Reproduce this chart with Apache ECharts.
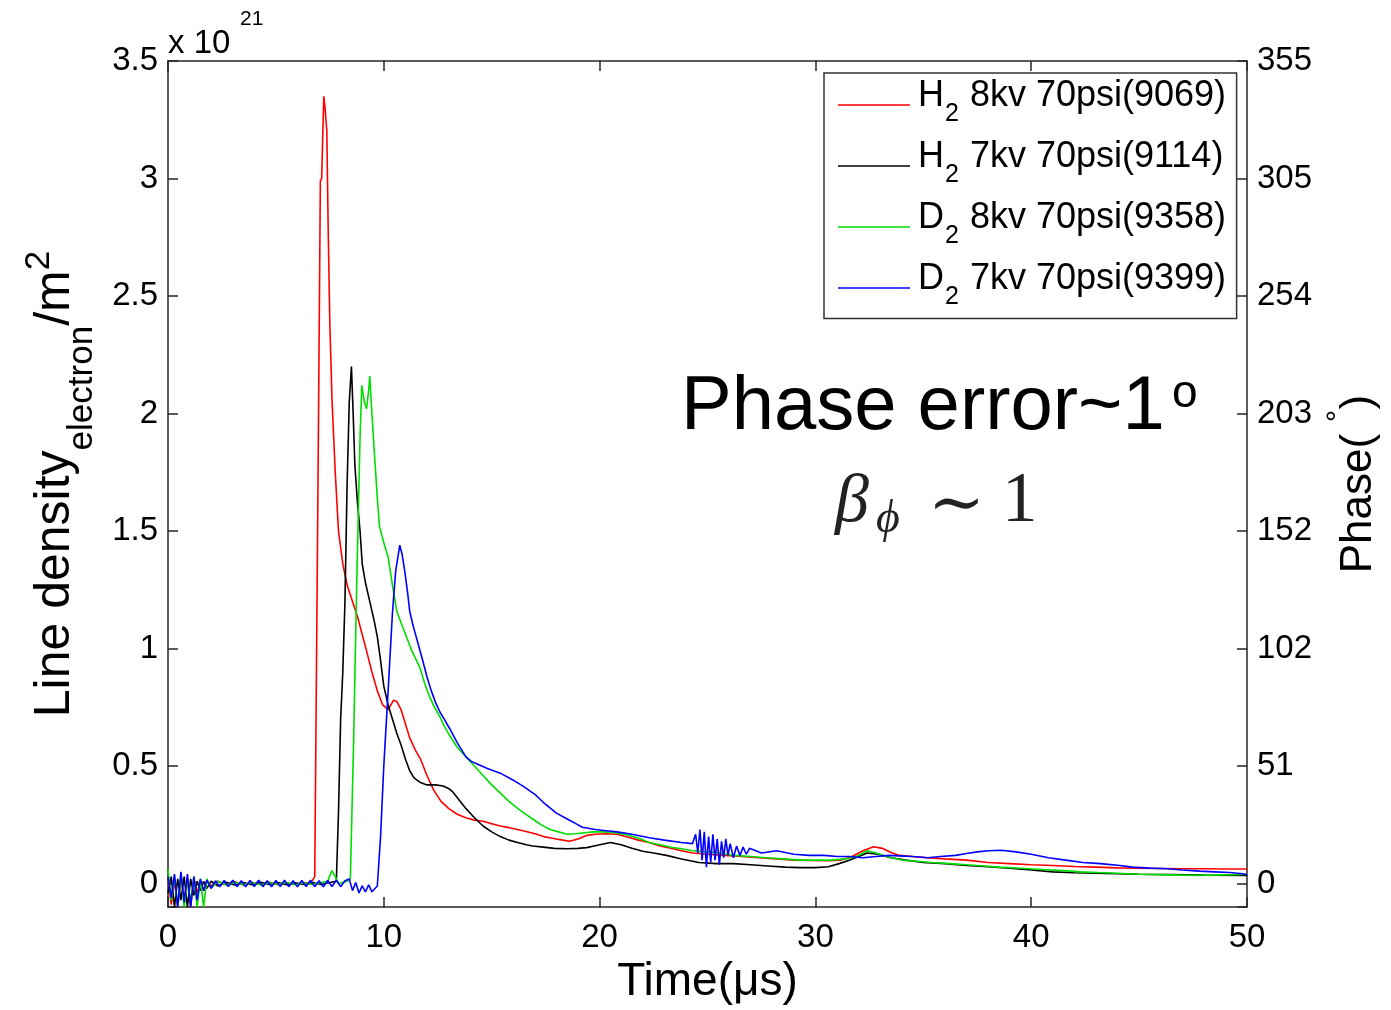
<!DOCTYPE html>
<html><head><meta charset="utf-8">
<script src="https://cdn.jsdelivr.net/npm/echarts@6/dist/echarts.min.js"></script>
<style>html,body{margin:0;padding:0;background:#fff}#c{width:1391px;height:1010px}</style>
</head><body><div id="c"></div>
<script>
// ---- tick labels ----
const xTickValues = [0, 10, 20, 30, 40, 50];
const yTickLabels = ['0', '0.5', '1', '1.5', '2', '2.5', '3', '3.5'];
const phaseTickLabels = ['0', '51', '102', '152', '203', '254', '305', '355'];

// ---- series names (legend) ----
const seriesNames = ['H2 8kv 70psi(9069)', 'H2 7kv 70psi(9114)', 'D2 8kv 70psi(9358)', 'D2 7kv 70psi(9399)'];

// ---- H2 8kv 70psi(9069)  (time in µs, density in 1e21 m^-2) ----
const h2_8kv_t = [0,0.15,0.3,0.45,0.6,0.75,0.9,1.05,1.2,1.35,1.5,1.65,1.8,2.0,2.3,2.7,3.1,3.5,3.9,4.3,4.7,5.1,5.5,5.9,6.3,6.6,6.8,6.96,7.06,7.12,7.22,7.28,7.36,7.42,7.5,7.6,7.75,7.9,8.1,8.3,8.55,8.8,9.0,9.2,9.45,9.7,9.95,10.2,10.45,10.6,10.8,11.0,11.2,11.45,11.7,12.0,12.3,12.65,13.0,13.4,13.8,14.2,14.6,15.0,15.4,15.8,16.2,16.6,17.0,17.4,17.7,18.1,18.6,19.0,19.4,19.8,20.3,20.8,21.3,21.8,22.3,22.8,23.3,23.8,24.3,25.0,25.8,26.6,27.4,28.2,29.0,29.8,30.6,31.2,31.7,32.2,32.7,33.1,33.5,33.9,34.5,35.2,36.0,37.0,38.0,39.0,40.0,41.0,42.0,43.0,44.0,45.0,46.0,47.0,48.0,49.0,50.0];
const h2_8kv_v = [0.02,-0.09,0.01,-0.1,0.02,-0.06,0.01,-0.1,0.02,-0.04,0.01,-0.03,0.01,-0.01,0.01,-0.005,0.008,-0.006,0.005,-0.004,0.006,-0.005,0.004,-0.004,0.005,0.0,0.03,1.81,2.99,3.0,3.35,3.3,3.2,2.8,2.38,2.06,1.75,1.5,1.36,1.27,1.2,1.13,1.06,0.99,0.9,0.82,0.76,0.74,0.78,0.775,0.74,0.68,0.62,0.57,0.53,0.46,0.40,0.35,0.32,0.295,0.28,0.27,0.265,0.255,0.245,0.238,0.23,0.222,0.212,0.2,0.195,0.188,0.18,0.19,0.205,0.21,0.212,0.21,0.198,0.185,0.175,0.16,0.15,0.14,0.13,0.125,0.12,0.115,0.11,0.105,0.1,0.098,0.097,0.1,0.115,0.14,0.157,0.15,0.132,0.12,0.115,0.11,0.105,0.1,0.09,0.085,0.08,0.077,0.073,0.07,0.067,0.065,0.064,0.063,0.063,0.062,0.062];

// ---- H2 7kv 70psi(9114) ----
const h2_7kv_t = [0,0.15,0.3,0.45,0.6,0.75,0.9,1.05,1.2,1.35,1.5,1.65,1.8,2.0,2.3,2.7,3.1,3.5,3.9,4.3,4.7,5.1,5.5,5.9,6.3,6.7,7.1,7.5,7.8,7.9,8.0,8.1,8.2,8.3,8.4,8.5,8.58,8.66,8.78,8.9,9.0,9.15,9.35,9.55,9.7,9.85,10.0,10.2,10.4,10.6,10.8,11.0,11.2,11.4,11.7,12.0,12.4,12.75,13.0,13.2,13.5,13.8,14.2,14.6,15.0,15.4,15.8,16.2,16.6,16.9,17.4,17.9,18.5,19.0,19.4,19.9,20.5,21.0,21.5,22.0,22.5,23.1,23.8,24.6,25.4,26.2,27.0,27.8,28.6,29.3,30.0,30.6,31.1,31.6,32.0,32.4,32.9,33.5,34.2,35.0,36.0,37.0,38.0,39.0,40.0,41.0,42.0,43.5,45.0,46.5,48.0,50.0];
const h2_7kv_v = [-0.04,0.03,-0.1,0.02,-0.07,0.03,-0.1,0.02,-0.05,0.01,-0.03,0.01,-0.02,0.01,-0.01,0.006,-0.006,0.005,-0.005,0.006,-0.004,0.005,-0.005,0.004,-0.004,0.005,-0.004,0.005,0.01,0.3,0.7,0.9,1.2,1.7,2.05,2.2,2.0,1.78,1.62,1.5,1.36,1.28,1.2,1.12,1.05,0.95,0.84,0.76,0.7,0.64,0.59,0.53,0.48,0.45,0.43,0.42,0.42,0.415,0.405,0.39,0.355,0.32,0.28,0.245,0.22,0.2,0.185,0.175,0.165,0.16,0.155,0.15,0.148,0.15,0.153,0.163,0.175,0.165,0.15,0.138,0.13,0.12,0.105,0.09,0.085,0.085,0.08,0.075,0.07,0.068,0.068,0.072,0.085,0.1,0.115,0.13,0.125,0.11,0.1,0.09,0.085,0.077,0.072,0.065,0.058,0.05,0.046,0.043,0.04,0.038,0.036,0.035];

// ---- D2 8kv 70psi(9358) ----
const d2_8kv_t = [0,0.15,0.3,0.45,0.6,0.75,0.9,1.05,1.2,1.35,1.5,1.65,1.8,2.0,2.3,2.7,3.1,3.5,3.9,4.3,4.7,5.1,5.5,5.9,6.3,6.7,7.1,7.4,7.6,7.75,7.9,8.1,8.3,8.45,8.6,8.75,8.9,8.98,9.1,9.2,9.3,9.35,9.45,9.58,9.7,9.8,10.0,10.2,10.4,10.6,10.8,11.05,11.3,11.67,11.9,12.1,12.35,12.6,12.8,13.05,13.4,13.8,14.2,14.6,15.0,15.4,15.8,16.2,16.5,16.9,17.3,17.7,18.1,18.5,18.9,19.2,19.7,20.2,20.8,21.4,21.9,22.3,22.8,23.3,23.8,24.3,25.0,25.6,26.2,27.0,27.7,28.5,29.3,30.0,30.7,31.4,31.9,32.4,32.8,33.3,34.0,34.7,35.4,36.2,37.0,37.8,38.5,39.5,40.5,41.5,42.3,43.1,44.0,45.0,46.0,47.0,47.8,48.5,49.3,50.0];
const d2_8kv_v = [0.06,-0.07,0.03,-0.1,0.04,-0.1,0.02,-0.08,0.03,-0.1,0.02,-0.1,0.02,-0.02,0.01,-0.006,0.006,-0.005,0.005,-0.006,0.005,-0.004,0.005,-0.005,0.004,-0.004,0.005,0.01,0.055,0.03,0.0,0.005,0.01,0.02,0.6,1.3,1.9,2.12,2.05,2.02,2.1,2.16,2.0,1.81,1.64,1.52,1.45,1.39,1.27,1.16,1.11,1.05,0.99,0.92,0.85,0.8,0.75,0.71,0.67,0.63,0.58,0.54,0.5,0.46,0.42,0.385,0.35,0.32,0.3,0.275,0.25,0.23,0.22,0.21,0.212,0.215,0.22,0.22,0.215,0.205,0.19,0.175,0.165,0.155,0.148,0.14,0.135,0.13,0.12,0.115,0.11,0.105,0.1,0.1,0.1,0.105,0.115,0.14,0.13,0.115,0.1,0.095,0.09,0.085,0.08,0.075,0.07,0.065,0.06,0.055,0.05,0.047,0.044,0.04,0.038,0.036,0.035,0.036,0.038,0.04];

// ---- D2 7kv 70psi(9399) ----
const d2_7kv_t = [0,0.15,0.3,0.45,0.6,0.75,0.9,1.05,1.2,1.35,1.5,1.65,1.8,2.0,2.2,2.4,2.6,2.8,3.0,3.2,3.4,3.6,3.8,4.0,4.2,4.4,4.6,4.8,5.0,5.2,5.4,5.6,5.8,6.0,6.2,6.4,6.6,6.8,7.0,7.2,7.4,7.6,7.8,8.0,8.2,8.4,8.55,8.7,8.85,9.0,9.15,9.3,9.45,9.6,9.7,9.85,10.0,10.2,10.4,10.55,10.74,10.85,10.97,11.1,11.2,11.35,11.5,11.65,11.8,12.0,12.2,12.4,12.6,12.8,13.05,13.4,13.8,14.05,14.3,14.8,15.4,16.0,16.45,17.0,17.4,18.0,18.5,18.9,19.2,19.8,20.3,20.8,21.5,22.3,23.0,23.8,24.3,24.45,24.55,24.65,24.75,24.85,24.95,25.05,25.15,25.25,25.35,25.45,25.55,25.65,25.75,25.85,25.95,26.05,26.2,26.35,26.5,26.65,26.8,26.95,27.5,28.2,29.0,29.7,30.4,31.0,31.6,32.2,32.8,33.4,33.9,34.5,35.2,35.8,36.5,37.0,37.5,38.0,38.6,39.3,40.0,40.8,41.6,42.4,43.2,44.0,44.7,45.5,46.3,47.0,47.8,48.5,49.2,49.8,50.0];
const d2_7kv_v = [0.03,-0.06,0.04,-0.1,0.05,-0.08,0.04,-0.1,0.03,-0.07,0.02,-0.03,0.015,-0.02,0.012,-0.014,0.013,-0.012,0.014,-0.013,0.012,-0.014,0.013,-0.012,0.014,-0.013,0.012,-0.014,0.013,-0.012,0.014,-0.013,0.012,-0.014,0.013,-0.012,0.014,-0.013,0.012,-0.014,0.013,-0.012,0.014,-0.013,0.012,0.02,-0.03,0.005,-0.04,-0.01,-0.035,-0.005,-0.035,-0.02,-0.01,0.2,0.5,0.82,1.15,1.33,1.44,1.4,1.33,1.24,1.16,1.1,1.05,1.0,0.95,0.88,0.82,0.77,0.73,0.7,0.66,0.6,0.54,0.52,0.51,0.49,0.47,0.44,0.415,0.38,0.345,0.3,0.275,0.255,0.24,0.23,0.225,0.22,0.21,0.195,0.185,0.175,0.17,0.21,0.13,0.23,0.1,0.22,0.07,0.2,0.09,0.21,0.1,0.19,0.08,0.18,0.11,0.19,0.12,0.17,0.11,0.16,0.12,0.155,0.125,0.15,0.13,0.14,0.125,0.12,0.12,0.115,0.115,0.11,0.115,0.12,0.118,0.115,0.11,0.115,0.12,0.128,0.135,0.14,0.142,0.135,0.125,0.11,0.1,0.09,0.085,0.078,0.07,0.066,0.063,0.058,0.053,0.05,0.047,0.042,0.038,0.034,0.03];

const seriesTimes = [h2_8kv_t, h2_7kv_t, d2_8kv_t, d2_7kv_t];
const seriesValues = [h2_8kv_v, h2_7kv_v, d2_8kv_v, d2_7kv_v];
const seriesColors = ['#ff0000', '#000000', '#00dd00', '#0000ff'];

const FONT = '"Liberation Sans", Arial, Helvetica, sans-serif';
const SERIF = '"Liberation Serif", "DejaVu Serif", "Times New Roman", serif';
const AXC = '#262626';

function tickIndex(v) {
  const k = v / 0.5;
  if (Math.abs(k - Math.round(k)) > 1e-6) return -1;
  return Math.round(k);
}

const chart = echarts.init(document.getElementById('c'), null, {renderer: 'canvas'});

const series = seriesNames.map((name, i) => ({
  name: name,
  type: 'line',
  xAxisIndex: 0,
  yAxisIndex: 0,
  symbol: 'none',
  clip: true,
  animation: false,
  lineStyle: {color: seriesColors[i], width: 1.6},
  itemStyle: {color: seriesColors[i]},
  data: seriesTimes[i].map((t, j) => [t, seriesValues[i][j]])
}));

const option = {
  backgroundColor: '#fff',
  animation: false,
  grid: {left: 168, right: 144, top: 61, bottom: 99, containLabel: false},
  xAxis: [
    {
      type: 'value', position: 'bottom', min: 0, max: 50, interval: 10,
      axisLine: {show: true, onZero: false, lineStyle: {color: AXC, width: 1.5}},
      axisTick: {show: true, inside: true, length: 10, lineStyle: {color: AXC, width: 1.5}},
      splitLine: {show: false},
      axisLabel: {show: true, margin: 14, color: '#000', fontSize: 33, fontFamily: FONT,
        formatter: v => xTickValues.indexOf(v) >= 0 ? String(v) : ''},
      name: 'Time(μs)', nameLocation: 'middle', nameGap: 49,
      nameTextStyle: {color: '#000', fontSize: 46, fontFamily: FONT}
    },
    {
      type: 'value', position: 'top', min: 0, max: 50, interval: 10,
      axisLine: {show: true, onZero: false, lineStyle: {color: AXC, width: 1.5}},
      axisTick: {show: true, inside: true, length: 10, lineStyle: {color: AXC, width: 1.5}},
      splitLine: {show: false},
      axisLabel: {show: false}
    }
  ],
  yAxis: [
    {
      type: 'value', position: 'left', min: -0.1, max: 3.5, splitNumber: 7,
      axisLine: {show: true, onZero: false, lineStyle: {color: AXC, width: 1.5}},
      axisTick: {show: true, inside: true, length: 10, lineStyle: {color: AXC, width: 1.5}},
      splitLine: {show: false},
      axisLabel: {show: true, margin: 10, color: '#000', fontSize: 33, fontFamily: FONT,
        formatter: v => { const k = tickIndex(v); return k >= 0 && k < yTickLabels.length ? yTickLabels[k] : ''; }},
      name: '{a|Line density}{b|electron}{a|/m}{c|2}',
      nameLocation: 'middle', nameRotate: 90, nameGap: 68,
      nameTextStyle: {
        color: '#000', fontFamily: FONT,
        rich: {
          a: {fontSize: 50, lineHeight: 90, fontFamily: FONT, color: '#000'},
          b: {fontSize: 35, verticalAlign: 'bottom', fontFamily: FONT, color: '#000'},
          c: {fontSize: 35, verticalAlign: 'top', padding: [12, 0, 0, 0], fontFamily: FONT, color: '#000'}
        }
      }
    },
    {
      type: 'value', position: 'right', min: -0.1, max: 3.5, splitNumber: 7,
      axisLine: {show: true, onZero: false, lineStyle: {color: AXC, width: 1.5}},
      axisTick: {show: true, inside: true, length: 10, lineStyle: {color: AXC, width: 1.5}},
      splitLine: {show: false},
      axisLabel: {show: true, margin: 10, color: '#000', fontSize: 33, fontFamily: FONT,
        formatter: v => { const k = tickIndex(v); return k >= 0 && k < phaseTickLabels.length ? phaseTickLabels[k] : ''; }},
      name: 'Phase(  )', nameLocation: 'middle', nameRotate: 90, nameGap: 90,
      nameTextStyle: {color: '#000', fontSize: 44, fontFamily: FONT}
    }
  ],
  legend: {
    show: true,
    orient: 'vertical',
    left: 824, top: 73,
    data: seriesNames,
    icon: 'rect',
    itemWidth: 72, itemHeight: 1.6,
    itemGap: 13,
    padding: [5.5, 10, 9, 14],
    borderColor: '#333', borderWidth: 1.5,
    backgroundColor: '#fff',
    selectedMode: false,
    formatter: function (name) {
      return '{h|' + name.charAt(0) + '}{s|' + name.charAt(1) + '}{n|' + name.slice(2) + '}{sp| }';
    },
    textStyle: {
      color: '#000', fontFamily: FONT, fontSize: 36,
      rich: {
        h: {fontSize: 36, verticalAlign: 'top', padding: [0, 0, 0, 3], fontFamily: FONT, color: '#000'},
        n: {fontSize: 36, verticalAlign: 'top', fontFamily: FONT, color: '#000'},
        s: {fontSize: 25, verticalAlign: 'bottom', padding: [0, 1, 5, 1], fontFamily: FONT, color: '#000'},
        sp: {fontSize: 2, lineHeight: 53}
      }
    }
  },
  graphic: [
    {type: 'text', left: 168, top: 27, silent: true,
      style: {text: 'x 10', font: '33px ' + FONT, fill: '#000'}},
    {type: 'text', left: 240, top: 9, silent: true,
      style: {text: '21', font: '21px ' + FONT, fill: '#000'}},
    {type: 'text', x: 681, y: 408, silent: true,
      style: {text: 'Phase error~1', font: '76px ' + FONT, fill: '#000', verticalAlign: 'middle', align: 'left'}},
    {type: 'text', x: 1172, y: 394, silent: true,
      style: {text: 'o', font: '46px ' + FONT, fill: '#000', verticalAlign: 'middle', align: 'left'}},
    {type: 'text', x: 835, y: 503, silent: true,
      style: {text: 'β', font: 'italic 68px ' + SERIF, fill: '#222', verticalAlign: 'middle', align: 'left'}},
    {type: 'text', x: 876, y: 520, silent: true,
      style: {text: 'ϕ', font: 'italic 46px ' + SERIF, fill: '#222', verticalAlign: 'middle', align: 'left'}},
    {type: 'text', x: 928, y: 507, silent: true,
      style: {text: '∼', font: '68px ' + SERIF, fill: '#222', verticalAlign: 'middle', align: 'left'}},
    {type: 'text', x: 1002, y: 502, silent: true,
      style: {text: '1', font: '71px ' + SERIF, fill: '#222', verticalAlign: 'middle', align: 'left'}},
    {type: 'text', x: 1339, y: 416, rotation: Math.PI / 2, silent: true,
      style: {text: '°', font: '30px ' + FONT, fill: '#000', verticalAlign: 'middle', align: 'center'}}
  ],
  series: series
};

chart.setOption(option);
</script>
</body></html>
